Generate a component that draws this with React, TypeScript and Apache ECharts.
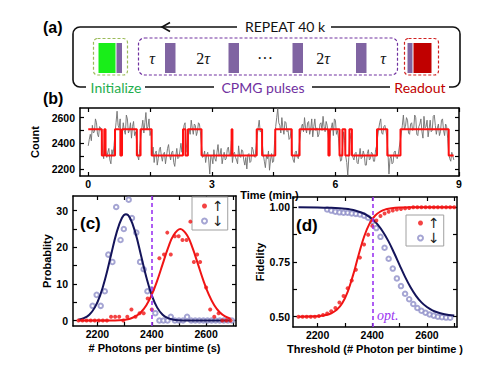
import React, { useEffect, useRef } from 'react';
import * as echarts from 'echarts';

// ---------- Panel (b): photon counts vs time ----------
const TIME_STEP = 0.025; // minutes between samples
const GRAY_COUNTS = [
  2380, 2430, 2470, 2420, 2540, 2480, 2490, 2590, 2560, 2470, 2450, 2530, 2520, 2480, 2330, 2280, 2450, 2340, 2290, 2330,
  2360, 2270, 2240, 2350, 2310, 2380, 2480, 2560, 2650, 2540, 2520, 2590, 2300, 2470, 2560, 2500, 2470, 2620, 2590, 2480,
  2500, 2560, 2440, 2530, 2570, 2460, 2490, 2420, 2300, 2270, 2360, 2450, 2520, 2580, 2480, 2560, 2640, 2510, 2530, 2590,
  2460, 2500, 2310, 2370, 2250, 2320, 2340, 2230, 2280, 2350, 2370, 2300, 2260, 2320, 2330, 2240, 2300, 2360, 2390, 2310,
  2270, 2330, 2340, 2250, 2220, 2300, 2360, 2280, 2290, 2340, 2400, 2330, 2470, 2540, 2560, 2410, 2330, 2440, 2510, 2470,
  2580, 2520, 2470, 2550, 2540, 2460, 2490, 2560, 2550, 2480, 2380, 2290, 2300, 2340, 2250, 2310, 2330, 2270, 2160, 2300,
  2290, 2240, 2350, 2280, 2260, 2330, 2390, 2300, 2310, 2360, 2240, 2290, 2330, 2270, 2280, 2350, 2370, 2310, 2300, 2420,
  2250, 2320, 2330, 2290, 2270, 2240, 2380, 2300, 2290, 2350, 2340, 2270, 2230, 2290, 2200, 2310, 2320, 2250, 2260, 2370,
  2350, 2300, 2290, 2380, 2460, 2520, 2580, 2490, 2500, 2400, 2310, 2260, 2210, 2300, 2280, 2340, 2190, 2270, 2320, 2250,
  2260, 2420, 2530, 2600, 2670, 2560, 2540, 2480, 2600, 2520, 2470, 2570, 2560, 2490, 2500, 2430, 2440, 2510, 2320, 2270,
  2250, 2330, 2340, 2290, 2280, 2400, 2470, 2530, 2550, 2490, 2600, 2520, 2480, 2560, 2570, 2470, 2510, 2590, 2450, 2530,
  2590, 2500, 2520, 2450, 2470, 2550, 2560, 2500, 2610, 2530, 2490, 2570, 2540, 2460, 2380, 2480, 2520, 2560, 2460, 2590,
  2580, 2470, 2500, 2440, 2330, 2260, 2270, 2380, 2490, 2420, 2300, 2250, 2150, 2290, 2480, 2430, 2350, 2290, 2270, 2320,
  2330, 2250, 2240, 2300, 2360, 2280, 2290, 2340, 2310, 2230, 2230, 2320, 2350, 2270, 2280, 2330, 2320, 2260, 2260, 2350,
  2380, 2450, 2510, 2560, 2590, 2480, 2470, 2530, 2540, 2500, 2450, 2330, 2160, 2280, 2300, 2240, 2250, 2330, 2340, 2290,
  2280, 2310, 2370, 2420, 2480, 2540, 2620, 2510, 2530, 2600, 2580, 2480, 2470, 2550, 2560, 2500, 2510, 2620, 2600, 2470,
  2460, 2530, 2550, 2590, 2490, 2440, 2610, 2520, 2530, 2580, 2450, 2510, 2580, 2490, 2500, 2610, 2620, 2540, 2470, 2520,
  2550, 2460, 2490, 2580, 2590, 2500, 2460, 2550, 2530, 2440, 2320, 2280, 2260, 2330, 2300, 2270,
];
const STEP_TIMES = [
  0, 0.33, 0.39, 0.42, 0.65, 0.78, 0.82, 1.18, 1.27, 1.54, 2.30, 2.36, 2.42, 2.75, 3.48, 3.50, 4.09,
  4.22, 4.54, 4.94, 5.13, 5.83, 5.86, 6.10, 6.17, 6.24, 6.34, 6.40, 7.01, 7.26, 7.58, 8.75, 8.87,
];
const STEP_LEVELS = [
  2510, 2305, 2510, 2305, 2510, 2305, 2510, 2305, 2510, 2305, 2510, 2305, 2510, 2305, 2510, 2305, 2510,
  2305, 2510, 2305, 2510, 2305, 2510, 2305, 2510, 2305, 2510, 2305, 2510, 2305, 2510, 2305, 2305,
];
const TIME_LABELS = [0, 3, 6, 9];
const TIME_TICKS = [0, 1.5, 3, 4.5, 6, 7.5, 9];
const COUNT_LABELS = [2200, 2400, 2600];
const COUNT_TICKS = [2200, 2300, 2400, 2500, 2600];

// ---------- Panel (c): histograms ----------
const C_DOWN_FIT_X = [2130, 2150, 2170, 2190, 2210, 2230, 2250, 2270, 2290, 2305, 2320, 2340, 2360, 2380, 2400, 2420, 2440, 2460, 2480, 2500, 2530, 2560, 2600, 2650, 2690];
const C_DOWN_FIT = [0.22, 0.63, 1.59, 3.52, 6.88, 11.83, 17.91, 23.86, 27.98, 29, 27.98, 23.86, 17.91, 11.83, 6.88, 3.52, 1.59, 0.63, 0.22, 0.07, 0, 0, 0, 0, 0];
const C_UP_FIT_X = [2130, 2200, 2250, 2280, 2300, 2320, 2340, 2360, 2380, 2400, 2420, 2440, 2460, 2480, 2505, 2530, 2550, 2570, 2590, 2610, 2630, 2650, 2670, 2690];
const C_UP_FIT = [0, 0, 0.01, 0.08, 0.2, 0.49, 1.1, 2.24, 4.16, 7.05, 10.91, 15.39, 19.82, 23.27, 25, 23.27, 19.82, 15.39, 10.91, 7.05, 4.16, 2.24, 1.1, 0.49];
const C_UP_X = [2130, 2145, 2160, 2175, 2190, 2205, 2220, 2235, 2250, 2265, 2280, 2295, 2310, 2325, 2340, 2355, 2370, 2385, 2400, 2428, 2445, 2457, 2470, 2485, 2499, 2513, 2528, 2542, 2555, 2567, 2578, 2600, 2615, 2630, 2646, 2660, 2675, 2690];
const C_UP_PROB = [0, 0, 0, 0, 0, 0, 0, 0, 1, 1, 1, 0, 1, 3, 1, 2, 2, 6, 3, 17, 18, 24, 18, 23, 23, 22, 22, 27, 16, 18, 16, 9, 3, 1, 2, 0, 0, 0];
const C_DOWN_X = [2182, 2197, 2212, 2227, 2240, 2255, 2269, 2285, 2297, 2315, 2327, 2343, 2357, 2370, 2384, 2399, 2413, 2428, 2443, 2458, 2470, 2485, 2500, 2515, 2530, 2545, 2560, 2575, 2590, 2605, 2620, 2635, 2650, 2665, 2680, 2695];
const C_DOWN_PROB = [4, 7, 4, 8, 18, 16, 31, 22, 25, 33, 28, 24, 16, 14, 8, 8.5, 2, 0, 0, 0, 1, 0, 0, 0, 1, 0, 0, 0, 0, 0, 0, 0, 0, 0, 0, 0];
const PHOTON_LABELS = [2200, 2400, 2600];
const PHOTON_TICKS = [2200, 2300, 2400, 2500, 2600, 2700];
const PROB_LABELS = [0, 10, 20, 30];
const PROB_TICKS = [0, 5, 10, 15, 20, 25, 30];

// ---------- Panel (d): fidelity vs threshold ----------
const D_UP_FIT_X = [2130, 2160, 2190, 2210, 2230, 2250, 2270, 2290, 2310, 2330, 2343, 2350, 2370, 2390, 2410, 2430, 2450, 2470, 2500, 2550, 2600, 2650, 2700];
const D_UP_FIT = [0.5002, 0.5006, 0.5017, 0.5036, 0.5075, 0.5155, 0.5314, 0.5616, 0.6138, 0.691, 0.75, 0.782, 0.8655, 0.9254, 0.9614, 0.9808, 0.9907, 0.9955, 0.9985, 0.9998, 1, 1, 1];
const D_DOWN_FIT_X = [2130, 2200, 2250, 2280, 2300, 2320, 2340, 2360, 2380, 2400, 2420, 2440, 2460, 2480, 2500, 2520, 2540, 2560, 2580, 2600, 2620, 2640, 2660, 2680, 2700];
const D_DOWN_FIT = [1, 0.9995, 0.9978, 0.9958, 0.9935, 0.99, 0.9845, 0.9763, 0.964, 0.946, 0.9205, 0.886, 0.843, 0.791, 0.736, 0.682, 0.6345, 0.5954, 0.5657, 0.5442, 0.5293, 0.5192, 0.5125, 0.508, 0.5052];
const D_UP_X = [2130, 2145, 2160, 2175, 2190, 2205, 2220, 2235, 2250, 2265, 2280, 2295, 2310, 2325, 2340, 2355, 2370, 2385, 2400, 2415, 2430, 2445, 2460, 2475, 2490, 2505, 2520, 2535, 2550, 2565, 2580, 2595, 2610, 2625, 2640, 2655, 2670, 2685, 2700];
const D_UP_FID = [0.5, 0.5, 0.5, 0.5, 0.5, 0.503, 0.508, 0.515, 0.525, 0.54, 0.565, 0.595, 0.63, 0.665, 0.715, 0.77, 0.83, 0.875, 0.915, 0.94, 0.96, 0.972, 0.98, 0.985, 0.99, 0.992, 0.995, 0.997, 1, 1, 1, 1, 1, 1, 1, 1, 1, 1, 1];
const D_DOWN_X = [2235, 2250, 2265, 2280, 2295, 2310, 2325, 2340, 2355, 2370, 2385, 2400, 2415, 2430, 2445, 2460, 2475, 2490, 2505, 2520, 2535, 2550, 2565, 2580, 2595, 2610, 2625, 2640, 2655, 2670, 2685];
const D_DOWN_FID = [0.99, 0.985, 0.98, 0.977, 0.975, 0.975, 0.972, 0.97, 0.967, 0.962, 0.952, 0.935, 0.905, 0.865, 0.815, 0.765, 0.72, 0.675, 0.64, 0.605, 0.58, 0.558, 0.54, 0.527, 0.518, 0.51, 0.505, 0.5, 0.498, 0.496, 0.495];
const FID_LABELS = [0.5, 0.75, 1.0];
const FID_TICKS = [0.5, 0.625, 0.75, 0.875, 1.0];
const OPT_THRESHOLD = 2400;

const FONT = "Liberation Sans";
const BLACK = '#000';
const RED = '#f01414';
const NAVY = '#14145a';
const LAVENDER = '#8e8ec8';
const VIOLET = '#9b35f0';

const zip = (xs: number[], ys: number[]) => xs.map((x, i) => [x, ys[i]]);

function axisPair(grid: number, kind: 'x' | 'y', min: number, max: number, labels: number[], ticks: number[], name: string, nameGap: number, margin: number, fmt: (v: number) => string) {
  const line = { show: true, onZero: false, lineStyle: { color: BLACK, width: 1.5 } };
  const tick = { show: true, inside: true, length: 4, lineStyle: { color: BLACK, width: 1.2 }, customValues: ticks };
  const main: any = {
    type: 'value', gridIndex: grid, min, max,
    position: kind === 'x' ? 'bottom' : 'left',
    axisLine: line, axisTick: tick, splitLine: { show: false },
    axisLabel: { customValues: labels, margin, fontSize: 10.5, fontWeight: 'bold', fontFamily: FONT, color: BLACK, formatter: fmt },
    name, nameLocation: 'middle', nameGap,
    nameTextStyle: { fontSize: 11, fontWeight: 'bold', fontFamily: FONT, color: BLACK },
  };
  const mirror: any = {
    type: 'value', gridIndex: grid, min, max,
    position: kind === 'x' ? 'top' : 'right',
    axisLine: line, axisTick: tick, splitLine: { show: false }, axisLabel: { show: false },
  };
  return [main, mirror];
}

const plain = (v: number) => String(v);
const twoDec = (v: number) => v.toFixed(2);

export default function App() {
  const ref = useRef<HTMLDivElement>(null);
  useEffect(() => {
    if (!ref.current) return;
    const chart = echarts.init(ref.current, undefined, { renderer: 'svg' });

    const xAxes = [
      ...axisPair(0, 'x', -0.2, 9.0, TIME_LABELS, TIME_TICKS, 'Time (min.)', 8, 2, plain),
      ...axisPair(1, 'x', 2110, 2710, PHOTON_LABELS, PHOTON_TICKS, '# Photons per bintime (s)', 16, 2, plain),
      ...axisPair(2, 'x', 2110, 2710, PHOTON_LABELS, PHOTON_TICKS, 'Threshold (# Photon per bintime )', 16, 2, plain),
    ];
    const yAxes = [
      ...axisPair(0, 'y', 2145, 2675, COUNT_LABELS, COUNT_TICKS, 'Count', 27, 5, plain),
      ...axisPair(1, 'y', -1.5, 34, PROB_LABELS, PROB_TICKS, 'Probablity', 18, 5, plain),
      ...axisPair(2, 'y', 0.453, 1.047, FID_LABELS, FID_TICKS, 'Fidelity', 24, 3, twoDec),
    ];

    const markLine = {
      silent: true, symbol: ['none', 'none'], label: { show: false },
      lineStyle: { color: VIOLET, type: [4, 3], width: 1.6 },
      data: [{ xAxis: OPT_THRESHOLD }],
    };

    const dash = [3, 2];
    const purpleBar = '#8064a2';
    const bars = [165, 228.5, 292.5, 356].map((x) => ({
      type: 'rect', shape: { x, y: 43, width: 10.5, height: 30 }, style: { fill: purpleBar },
    }));
    const tauRich = {
      n: { fontSize: 16, fontFamily: 'Liberation Serif', fontStyle: 'normal', fill: '#111', color: '#111' },
      t: { fontSize: 16, fontFamily: 'Liberation Serif', fontStyle: 'italic', fill: '#111', color: '#111' },
    };
    const tauStyle = { fontSize: 16, fontFamily: 'Liberation Serif', fontStyle: 'italic', fill: '#111', align: 'center', verticalAlign: 'middle', rich: tauRich };
    const lato = { fontSize: 14, fontFamily: 'Lato', align: 'center', verticalAlign: 'middle' };
    const letter = { fontWeight: 'bold', fontFamily: FONT, fill: '#000', verticalAlign: 'middle' };

    const graphicElements: any[] = [
      // loop
      { type: 'rect', shape: { x: 73, y: 27, width: 387, height: 60, r: 7 }, style: { fill: 'none', stroke: '#111', lineWidth: 1.6 } },
      { type: 'rect', shape: { x: 237, y: 21, width: 94, height: 12 }, style: { fill: '#fff' } },
      { type: 'rect', shape: { x: 86, y: 81, width: 59, height: 12 }, style: { fill: '#fff' } },
      { type: 'rect', shape: { x: 214, y: 81, width: 98, height: 12 }, style: { fill: '#fff' } },
      { type: 'rect', shape: { x: 390, y: 81, width: 59, height: 12 }, style: { fill: '#fff' } },
      { type: 'polyline', shape: { points: [[170, 22.5], [162, 27], [170, 31.5]] }, style: { fill: 'none', stroke: '#111', lineWidth: 1.6 } },
      { type: 'text', x: 285, y: 26.5, style: { ...lato, text: 'REPEAT 40 k', fill: '#111' } },
      { type: 'text', x: 116, y: 87.5, style: { ...lato, text: 'Initialize', fill: '#1fae4e' } },
      { type: 'text', x: 263, y: 87.5, style: { ...lato, text: 'CPMG pulses', fill: '#7030a0' } },
      { type: 'text', x: 420, y: 87.5, style: { ...lato, text: 'Readout', fill: '#c00000' } },
      // initialize block
      { type: 'rect', shape: { x: 93.5, y: 38.5, width: 34, height: 36.5, r: 4 }, style: { fill: 'none', stroke: '#9bbb59', lineWidth: 1.2, lineDash: dash } },
      { type: 'rect', shape: { x: 98.5, y: 43, width: 17, height: 30 }, style: { fill: '#19ee19' } },
      { type: 'rect', shape: { x: 116.5, y: 43, width: 5.5, height: 30 }, style: { fill: purpleBar } },
      // CPMG block
      { type: 'rect', shape: { x: 138.5, y: 38, width: 259, height: 37, r: 6 }, style: { fill: 'none', stroke: '#7030a0', lineWidth: 1.2, lineDash: dash } },
      ...bars,
      { type: 'text', x: 152, y: 58, style: { ...tauStyle, text: 'τ' } },
      { type: 'text', x: 203, y: 58, style: { ...tauStyle, text: '{n|2}{t|τ}' } },
      { type: 'text', x: 265, y: 58, style: { ...tauStyle, fontStyle: 'normal', text: '···' } },
      { type: 'text', x: 323, y: 58, style: { ...tauStyle, text: '{n|2}{t|τ}' } },
      { type: 'text', x: 383, y: 58, style: { ...tauStyle, text: 'τ' } },
      // readout block
      { type: 'rect', shape: { x: 404.5, y: 38.5, width: 34, height: 36.5, r: 4 }, style: { fill: 'none', stroke: '#d02020', lineWidth: 1.2, lineDash: dash } },
      { type: 'rect', shape: { x: 407.5, y: 43, width: 5, height: 30 }, style: { fill: purpleBar } },
      { type: 'rect', shape: { x: 413.5, y: 43, width: 18, height: 30 }, style: { fill: '#c00000' } },
      // panel letters
      { type: 'text', x: 43, y: 27, style: { ...letter, text: '(a)', fontSize: 16 } },
      { type: 'text', x: 43, y: 98, style: { ...letter, text: '(b)', fontSize: 16 } },
      { type: 'text', x: 80, y: 223, style: { ...letter, text: '(c)', fontSize: 17 } },
      { type: 'text', x: 296, y: 225, style: { ...letter, text: '(d)', fontSize: 17 } },
      { type: 'text', x: 377, y: 315, style: { text: 'opt.', fontSize: 14, fontStyle: 'italic', fontFamily: 'Liberation Serif', fill: VIOLET, verticalAlign: 'middle' } },
    ];

    const legendBase = {
      orient: 'vertical', data: ['↑', '↓'],
      backgroundColor: '#fff', borderColor: '#a0a0a0', borderWidth: 1, borderRadius: 0,
      itemWidth: 5, itemHeight: 5, itemGap: 1,
      textStyle: { fontSize: 14, lineHeight: 12, fontFamily: 'DejaVu Sans', color: '#222' },
    };

    chart.setOption({
      animation: false,
      backgroundColor: '#fff',
      grid: [
        { left: 80, top: 108, width: 379, height: 68 },
        { left: 73, top: 196, width: 163, height: 130 },
        { left: 293, top: 197, width: 164, height: 130 },
      ],
      xAxis: xAxes,
      yAxis: yAxes,
      legend: [
        { ...legendBase, left: 192, top: 197, padding: [2, 4, 2, 9] },
        { ...legendBase, left: 406, top: 215, padding: [1, 4, 1, 11] },
      ],
      graphic: { elements: graphicElements },
      series: [
        {
          type: 'line', xAxisIndex: 0, yAxisIndex: 0, showSymbol: false, silent: true,
          data: GRAY_COUNTS.map((v, i) => [i * TIME_STEP, v]),
          lineStyle: { color: '#6f6f6f', width: 0.9 },
        },
        {
          type: 'line', xAxisIndex: 0, yAxisIndex: 0, showSymbol: false, silent: true, step: 'end',
          data: zip(STEP_TIMES, STEP_LEVELS),
          lineStyle: { color: '#ff1010', width: 2 },
        },
        // panel c
        {
          name: '↓', type: 'scatter', xAxisIndex: 2, yAxisIndex: 2, symbol: 'emptyCircle', symbolSize: 4.5,
          data: zip(C_DOWN_X, C_DOWN_PROB), itemStyle: { color: LAVENDER, borderWidth: 1 },
        },
        {
          type: 'line', xAxisIndex: 2, yAxisIndex: 2, showSymbol: false, smooth: 0.4,
          data: zip(C_DOWN_FIT_X, C_DOWN_FIT), lineStyle: { color: NAVY, width: 2 }, z: 3,
        },
        {
          type: 'line', xAxisIndex: 2, yAxisIndex: 2, showSymbol: false, smooth: 0.4,
          data: zip(C_UP_FIT_X, C_UP_FIT), lineStyle: { color: RED, width: 2 }, z: 3,
          markLine,
        },
        {
          name: '↑', type: 'scatter', xAxisIndex: 2, yAxisIndex: 2, symbol: 'circle', symbolSize: 4,
          data: zip(C_UP_X, C_UP_PROB), itemStyle: { color: RED }, z: 4,
        },
        // panel d
        {
          name: '↓', type: 'scatter', xAxisIndex: 4, yAxisIndex: 4, symbol: 'emptyCircle', symbolSize: 4.5,
          data: zip(D_DOWN_X, D_DOWN_FID), itemStyle: { color: LAVENDER, borderWidth: 1 },
        },
        {
          type: 'line', xAxisIndex: 4, yAxisIndex: 4, showSymbol: false, smooth: 0.4,
          data: zip(D_DOWN_FIT_X, D_DOWN_FIT), lineStyle: { color: NAVY, width: 2 }, z: 3,
        },
        {
          type: 'line', xAxisIndex: 4, yAxisIndex: 4, showSymbol: false, smooth: 0.4,
          data: zip(D_UP_FIT_X, D_UP_FIT), lineStyle: { color: RED, width: 2 }, z: 3,
          markLine,
        },
        {
          name: '↑', type: 'scatter', xAxisIndex: 4, yAxisIndex: 4, symbol: 'circle', symbolSize: 4,
          data: zip(D_UP_X, D_UP_FID), itemStyle: { color: RED }, z: 4,
        },
      ],
    });
    return () => chart.dispose();
  }, []);

  return <div ref={ref} style={{ position: 'absolute', left: 0, top: 0, width: 500, height: 375, background: '#fff' }} />;
}
